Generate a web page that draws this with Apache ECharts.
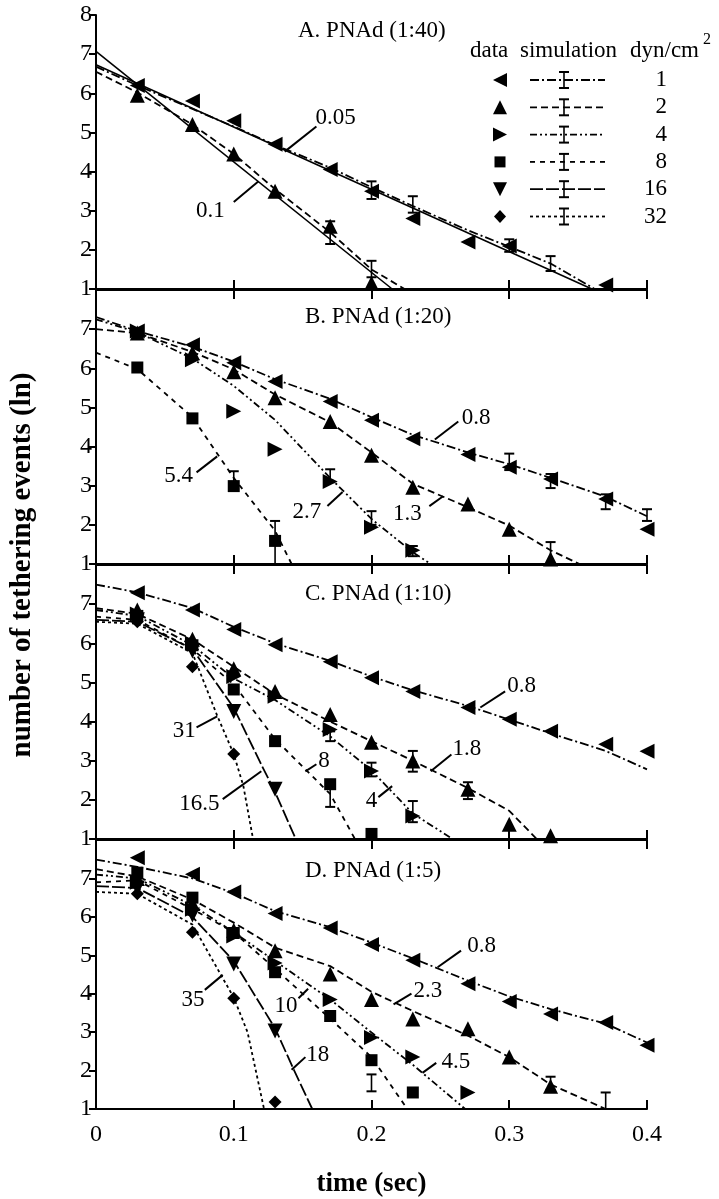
<!DOCTYPE html>
<html><head><meta charset="utf-8">
<script src="https://cdn.jsdelivr.net/npm/echarts@6/dist/echarts.min.js"></script>
<style>html,body{margin:0;padding:0;background:#fff}#c{width:719px;height:1199px}</style>
</head><body><div id="c"></div>
<script>
// ---------- text ----------
const panelTitles = ['A. PNAd (1:40)', 'B. PNAd (1:20)', 'C. PNAd (1:10)', 'D. PNAd (1:5)'];
const xAxisName = 'time (sec)';
const yAxisName = 'number of tethering events (ln)';
const legendHeader = ['data', 'simulation', 'dyn/cm'];
const legendValues = ['1', '2', '4', '8', '16', '32'];
const legendKinds = ['left', 'up', 'right', 'square', 'down', 'diamond'];
const xMin = 0, xMax = 0.4, xStep = 0.1;
const yMin = 1, yMax = 8, yStep = 1;

// ---------- Panel A ----------
const a_pts_left = [[0.03,6.2],[0.07,5.8],[0.1,5.3],[0.13,4.7],[0.17,4.05],[0.2,3.5],[0.23,2.8],[0.27,2.2],[0.3,2.1],[0.37,1.1]];
const a_pts_up = [[0.03,5.95],[0.07,5.2],[0.1,4.45],[0.13,3.5],[0.17,2.6],[0.2,1.15]];
const a_sim_left = [[0,6.68],[0.03,6.2],[0.07,5.6],[0.1,5.15],[0.13,4.68],[0.17,4.1],[0.2,3.6],[0.23,3.12],[0.27,2.5],[0.3,2.08],[0.33,1.65],[0.362,1]];
const a_sim_up = [[0,6.55],[0.03,6.02],[0.07,5.2],[0.1,4.45],[0.13,3.55],[0.17,2.45],[0.2,1.5],[0.224,1]];
const a_fit_left = [[0,6.73],[0.36,1]];
const a_fit_up = [[0,7.07],[0.215,1]];
const a_err = [[0.17,2.15,2.73],[0.2,1.3,1.72],[0.2,3.3,3.75],[0.23,2.95,3.37],[0.3,1.95,2.27],[0.33,1.46,1.84]];
const a_notes = [['0.05',0.137,4.51,0.160,5.15,0.174,5.38],['0.1',0.118,3.75,0.100,3.22,0.083,2.99]];

// ---------- Panel B ----------
const b_pts_left = [[0.03,6.95],[0.07,6.6],[0.1,6.14],[0.13,5.66],[0.17,5.15],[0.2,4.67],[0.23,4.2],[0.27,3.8],[0.3,3.47],[0.33,3.17],[0.37,2.66],[0.4,1.89]];
const b_pts_up = [[0.03,6.9],[0.07,6.4],[0.1,5.91],[0.13,5.25],[0.17,4.64],[0.2,3.78],[0.23,2.96],[0.27,2.53],[0.3,1.89],[0.33,1.13]];
const b_pts_right = [[0.03,6.95],[0.07,6.22],[0.1,4.9],[0.13,3.93],[0.17,3.11],[0.2,1.94],[0.23,1.35]];
const b_pts_square = [[0.03,6.02],[0.07,4.72],[0.1,2.99],[0.13,1.59]];
const b_sim_left = [[0,7.31],[0.03,6.95],[0.07,6.55],[0.1,6.17],[0.13,5.72],[0.17,5.22],[0.2,4.75],[0.23,4.3],[0.27,3.85],[0.3,3.55],[0.33,3.2],[0.37,2.72],[0.4,2.22]];
const b_sim_up = [[0,7.0],[0.03,6.9],[0.07,6.42],[0.1,5.97],[0.13,5.33],[0.17,4.62],[0.2,3.85],[0.23,3.05],[0.27,2.45],[0.3,1.98],[0.33,1.35],[0.351,1]];
const b_sim_right = [[0,7.25],[0.03,6.92],[0.07,6.25],[0.1,5.55],[0.13,4.68],[0.17,3.2],[0.2,2.15],[0.23,1.3],[0.243,1]];
const b_sim_square = [[0,6.4],[0.03,5.98],[0.07,4.75],[0.1,3.2],[0.13,1.85],[0.142,1]];
const b_err = [[0.3,3.4,3.82],[0.33,2.94,3.3],[0.37,2.4,2.78],[0.4,2.1,2.4],[0.33,1.0,1.56],[0.17,3.09,3.42],[0.2,2.0,2.35],[0.23,1.2,1.46],[0.1,3.0,3.37],[0.13,1.0,2.1]];
const b_notes = [['5.4',0.088,3.75,0.073,3.34,0.060,3.24],['2.7',0.179,2.84,0.168,2.48,0.153,2.33],['1.3',0.252,2.73,0.242,2.48,0.226,2.27],['0.8',0.246,4.18,0.263,4.64,0.276,4.74]];

// ---------- Panel C ----------
const c_pts_left = [[0.03,7.29],[0.07,6.85],[0.1,6.35],[0.13,5.96],[0.17,5.53],[0.2,5.12],[0.23,4.77],[0.27,4.36],[0.3,4.06],[0.33,3.75],[0.37,3.42],[0.4,3.24]];
const c_pts_up = [[0.03,6.85],[0.07,6.1],[0.1,5.35],[0.13,4.77],[0.17,4.18],[0.2,3.47],[0.23,2.99],[0.27,2.27],[0.3,1.38],[0.33,1.08]];
const c_pts_right = [[0.03,6.75],[0.07,6.0],[0.1,5.15],[0.13,4.65],[0.17,3.8],[0.2,2.74],[0.23,1.59]];
const c_pts_square = [[0.03,6.7],[0.07,5.95],[0.1,4.82],[0.13,3.5],[0.17,2.4],[0.2,1.13]];
const c_pts_down = [[0.03,6.6],[0.07,5.8],[0.1,4.26],[0.13,2.27]];
const c_pts_diamond = [[0.03,6.55],[0.07,5.4],[0.1,3.17]];
const c_sim_left = [[0,7.5],[0.03,7.3],[0.07,6.9],[0.1,6.42],[0.13,6.0],[0.17,5.55],[0.2,5.15],[0.23,4.8],[0.27,4.4],[0.3,4.05],[0.33,3.7],[0.37,3.25],[0.4,2.78]];
const c_sim_up = [[0,6.9],[0.03,6.75],[0.07,6.1],[0.1,5.4],[0.13,4.7],[0.17,4.0],[0.2,3.5],[0.23,3.0],[0.27,2.3],[0.3,1.72],[0.32,1.0]];
const c_sim_right = [[0,6.85],[0.03,6.7],[0.07,5.95],[0.1,5.1],[0.13,4.55],[0.17,3.62],[0.2,2.75],[0.23,1.65],[0.259,1.0]];
const c_sim_square = [[0,6.68],[0.03,6.6],[0.07,5.85],[0.1,4.95],[0.13,3.55],[0.17,2.15],[0.188,1.0]];
const c_sim_down = [[0,6.6],[0.03,6.55],[0.07,5.85],[0.1,4.35],[0.12,2.9],[0.13,2.2],[0.145,1.0]];
const c_sim_diamond = [[0,6.55],[0.03,6.5],[0.07,5.75],[0.088,4.15],[0.1,3.17],[0.107,2.35],[0.114,1.0]];
const c_err = [[0.23,2.72,3.25],[0.27,2.02,2.45],[0.17,3.5,3.75],[0.2,2.6,2.95],[0.23,1.43,1.97],[0.17,1.82,2.45]];
const c_notes = [['31',0.088,4.13,0.073,3.85,0.064,3.75],['16.5',0.120,2.73,0.092,2.02,0.075,1.89],['8',0.152,2.73,0.160,2.91,0.1655,2.99],['4',0.215,2.35,0.205,2.07,0.200,1.97],['1.8',0.243,2.73,0.258,3.16,0.2693,3.29],['0.8',0.279,4.36,0.297,4.77,0.309,4.9]];

// ---------- Panel D ----------
const d_pts_left = [[0.03,7.54],[0.07,7.11],[0.1,6.65],[0.13,6.09],[0.17,5.71],[0.2,5.28],[0.23,4.87],[0.27,4.26],[0.3,3.8],[0.33,3.47],[0.37,3.25],[0.4,2.66]];
const d_pts_up = [[0.03,7.0],[0.07,6.35],[0.1,5.65],[0.13,5.12],[0.17,4.51],[0.2,3.85],[0.23,3.34],[0.27,3.09],[0.3,2.35],[0.33,1.59]];
const d_pts_right = [[0.03,6.9],[0.07,6.2],[0.1,5.5],[0.13,4.8],[0.17,3.85],[0.2,2.86],[0.23,2.35],[0.27,1.43]];
const d_pts_square = [[0.03,7.15],[0.07,6.5],[0.1,5.58],[0.13,4.56],[0.17,3.42],[0.2,2.27],[0.23,1.43]];
const d_pts_down = [[0.03,6.75],[0.07,6.05],[0.1,4.77],[0.13,3.03]];
const d_pts_diamond = [[0.03,6.6],[0.07,5.6],[0.1,3.88],[0.13,1.18]];
const d_sim_left = [[0,7.49],[0.03,7.3],[0.07,7.0],[0.1,6.62],[0.13,6.15],[0.17,5.73],[0.2,5.33],[0.23,4.92],[0.27,4.34],[0.3,3.93],[0.33,3.6],[0.37,3.22],[0.4,2.73]];
const d_sim_up = [[0,7.24],[0.03,7.05],[0.07,6.45],[0.1,5.85],[0.13,5.2],[0.17,4.72],[0.2,4.05],[0.23,3.55],[0.27,2.91],[0.3,2.35],[0.33,1.64],[0.37,1.0]];
const d_sim_right = [[0,7.1],[0.03,7.0],[0.07,6.3],[0.1,5.6],[0.13,4.85],[0.17,3.85],[0.2,2.99],[0.23,2.15],[0.268,1.0]];
const d_sim_square = [[0,6.9],[0.03,6.95],[0.07,6.2],[0.1,5.6],[0.13,4.65],[0.17,3.35],[0.2,2.35],[0.226,1.0]];
const d_sim_down = [[0,6.8],[0.03,6.75],[0.07,6.0],[0.1,4.85],[0.13,3.1],[0.143,2.07],[0.157,1.0]];
const d_sim_diamond = [[0,6.65],[0.03,6.6],[0.07,5.8],[0.1,3.9],[0.11,3.0],[0.122,1.0]];
const d_err = [[0.33,1.5,1.84],[0.37,1.0,1.43],[0.2,1.46,1.9]];
const d_notes = [['35',0.092,4.49,0.079,4.1,0.0704,3.85],['10',0.154,4.13,0.147,3.88,0.138,3.67],['18',0.142,2.02,0.152,2.35,0.161,2.4],['2.3',0.216,3.72,0.229,4.0,0.241,4.06],['4.5',0.237,1.94,0.247,2.2,0.2613,2.22],['0.8',0.248,4.69,0.265,5.12,0.28,5.25]];

// ---------- styles ----------
const SERIF = '"Liberation Serif","Times New Roman",serif';
const FS = 23;
const TICK_FS = 24;
const GRID_TOPS = [15, 290, 565, 840];
const GRID_H = 274, GRID_L = 96, GRID_W = 551;
const kindSymbol = {left:['triangle',90,15], up:['triangle',0,15], right:['triangle',-90,15], square:['rect',0,12], down:['triangle',180,15], diamond:['diamond',0,13]};
const kindDash = {left:[9,3,2,3], up:[7,4], right:[7,3,2,3,2,3], square:[5,5], down:[13,3], diamond:[3,3]};

const panels = [
  {pts:{left:a_pts_left, up:a_pts_up}, sim:{left:a_sim_left, up:a_sim_up}, fits:[a_fit_left, a_fit_up], err:a_err, notes:a_notes},
  {pts:{left:b_pts_left, up:b_pts_up, right:b_pts_right, square:b_pts_square}, sim:{left:b_sim_left, up:b_sim_up, right:b_sim_right, square:b_sim_square}, fits:[], err:b_err, notes:b_notes},
  {pts:{left:c_pts_left, up:c_pts_up, right:c_pts_right, square:c_pts_square, down:c_pts_down, diamond:c_pts_diamond}, sim:{left:c_sim_left, up:c_sim_up, right:c_sim_right, square:c_sim_square, down:c_sim_down, diamond:c_sim_diamond}, fits:[], err:c_err, notes:c_notes},
  {pts:{left:d_pts_left, up:d_pts_up, right:d_pts_right, square:d_pts_square, down:d_pts_down, diamond:d_pts_diamond}, sim:{left:d_sim_left, up:d_sim_up, right:d_sim_right, square:d_sim_square, down:d_sim_down, diamond:d_sim_diamond}, fits:[], err:d_err, notes:d_notes}
];

const grid = GRID_TOPS.map(t => ({left:GRID_L, top:t, width:GRID_W, height:GRID_H, containLabel:false}));
const axisLineStyle = {color:'#000', width:2};
const xAxis = [];
const yAxis = [];
GRID_TOPS.forEach((t, p) => {
  xAxis.push({gridIndex:p, type:'value', min:xMin, max:xMax, interval:xStep, position:'bottom',
    axisLine:{show:true, onZero:false, lineStyle:axisLineStyle},
    axisTick:{show:true, inside:true, length:9, lineStyle:{color:'#000', width:2}},
    axisLabel:{show:p===3, color:'#000', fontFamily:SERIF, fontSize:TICK_FS, margin:14},
    splitLine:{show:false},
    name: p===3 ? xAxisName : '', nameLocation:'middle', nameGap:62,
    nameTextStyle:{color:'#000', fontFamily:SERIF, fontSize:27, fontWeight:'bold'}});
  yAxis.push({gridIndex:p, type:'value', min:yMin, max:yMax, interval:yStep,
    axisLine:{show:true, onZero:false, lineStyle:axisLineStyle},
    axisTick:{show:true, inside:false, length:7, lineStyle:{color:'#000', width:2}},
    axisLabel:{color:'#000', fontFamily:SERIF, fontSize:TICK_FS, margin:4, showMaxLabel:p===0, showMinLabel:true},
    splitLine:{show:false}});
});
[1,2,3].forEach(p => {
  xAxis.push({gridIndex:p, type:'value', min:xMin, max:xMax, interval:xStep, position:'top',
    axisLine:{show:true, onZero:false, lineStyle:axisLineStyle},
    axisTick:{show:true, inside:true, length:9, lineStyle:{color:'#000', width:2}},
    axisLabel:{show:false}, splitLine:{show:false}});
});

function errRender(params, api) {
  const x = api.value(0), lo = api.value(1), hi = api.value(2);
  const a = api.coord([x, lo]), b = api.coord([x, hi]);
  const w = 5;
  return {type:'group', children:[
    {type:'line', shape:{x1:a[0], y1:a[1], x2:b[0], y2:b[1]}, style:{stroke:'#000', lineWidth:1.6}},
    {type:'line', shape:{x1:a[0]-w, y1:a[1], x2:a[0]+w, y2:a[1]}, style:{stroke:'#000', lineWidth:2}},
    {type:'line', shape:{x1:b[0]-w, y1:b[1], x2:b[0]+w, y2:b[1]}, style:{stroke:'#000', lineWidth:2}}
  ]};
}

const series = [];
panels.forEach((pn, p) => {
  pn.fits.forEach(f => series.push({type:'line', xAxisIndex:p, yAxisIndex:p, data:f, symbol:'none', silent:true, animation:false, z:2,
    lineStyle:{color:'#000', width:1.6, type:'solid'}}));
  Object.keys(pn.sim).forEach(k => series.push({type:'line', xAxisIndex:p, yAxisIndex:p, data:pn.sim[k], symbol:'none', silent:true, animation:false, z:2,
    lineStyle:{color:'#000', width:1.8, type:kindDash[k], cap:'butt'}}));
  series.push({type:'custom', xAxisIndex:p, yAxisIndex:p, data:pn.err, renderItem:errRender, encode:{x:0, y:[1,2]}, silent:true, animation:false, z:3});
  Object.keys(pn.pts).forEach(k => {
    const s = kindSymbol[k];
    series.push({type:'scatter', xAxisIndex:p, yAxisIndex:p, data:pn.pts[k], symbol:s[0], symbolRotate:s[1], symbolSize:s[2],
      itemStyle:{color:'#000', opacity:1}, silent:true, animation:false, z:4});
  });
  const notes = pn.notes;
  series.push({type:'custom', xAxisIndex:p, yAxisIndex:p, data:notes.map(n => [n[1], n[2], n[3], n[4], n[5], n[6]]),
    encode:{x:[0,2,4], y:[1,3,5]}, silent:true, animation:false, z:5,
    renderItem:function(params, api){
      const a = api.coord([api.value(0), api.value(1)]);
      const b = api.coord([api.value(2), api.value(3)]);
      const c = api.coord([api.value(4), api.value(5)]);
      return {type:'group', children:[
        {type:'line', shape:{x1:a[0], y1:a[1], x2:b[0], y2:b[1]}, style:{stroke:'#000', lineWidth:2}},
        {type:'text', x:c[0], y:c[1], style:{text:notes[params.dataIndex][0], align:'center', verticalAlign:'middle', textAlign:'center', textVerticalAlign:'middle', font:FS + 'px ' + SERIF, fill:'#000'}}
      ]};
    }});
});

// ---------- graphic: titles, y name, legend ----------
const graphic = [];
const titlePos = [[298,32],[305,318],[305,595],[305,872]];
panelTitles.forEach((t, i) => graphic.push({type:'text', left:titlePos[i][0], top:titlePos[i][1]-13,
  style:{text:t, font:FS + 'px ' + SERIF, fill:'#000'}}));
graphic.push({type:'text', x:23, y:565, rotation:Math.PI/2,
  style:{text:yAxisName, font:'bold 29px ' + SERIF, fill:'#000', align:'center', verticalAlign:'middle', textAlign:'center', textVerticalAlign:'middle'}});

const LG = {hy:52, dataX:470, simX:520, dynX:630, rowY0:80, rowDy:27.3, mX:500, l1:530, l2:605, ebX:564, valR:667};
graphic.push({type:'text', left:LG.dataX, top:LG.hy-13, style:{text:legendHeader[0], font:FS+'px '+SERIF, fill:'#000'}});
graphic.push({type:'text', left:LG.simX, top:LG.hy-13, style:{text:legendHeader[1], font:FS+'px '+SERIF, fill:'#000'}});
graphic.push({type:'text', left:LG.dynX, top:LG.hy-13, style:{text:legendHeader[2], font:FS+'px '+SERIF, fill:'#000'}});
graphic.push({type:'text', left:LG.dynX+73, top:LG.hy-20, style:{text:'2', font:'16px '+SERIF, fill:'#000'}});
function markerShape(kind, cx, cy) {
  const h = 7;
  let pts;
  if (kind === 'left') pts = [[cx-h,cy],[cx+h,cy-h],[cx+h,cy+h]];
  else if (kind === 'up') pts = [[cx,cy-h],[cx+h,cy+h],[cx-h,cy+h]];
  else if (kind === 'right') pts = [[cx+h,cy],[cx-h,cy-h],[cx-h,cy+h]];
  else if (kind === 'down') pts = [[cx,cy+h],[cx+h,cy-h],[cx-h,cy-h]];
  else if (kind === 'square') pts = [[cx-5.5,cy-5.5],[cx+5.5,cy-5.5],[cx+5.5,cy+5.5],[cx-5.5,cy+5.5]];
  else pts = [[cx,cy-6.5],[cx+6,cy],[cx,cy+6.5],[cx-6,cy]];
  return {type:'polygon', shape:{points:pts}, style:{fill:'#000'}};
}
legendKinds.forEach((k, i) => {
  const y = LG.rowY0 + i*LG.rowDy;
  graphic.push(markerShape(k, LG.mX, y));
  graphic.push({type:'line', shape:{x1:LG.l1, y1:y, x2:LG.l2, y2:y}, style:{stroke:'#000', lineWidth:1.8, lineDash:kindDash[k]}});
  graphic.push({type:'line', shape:{x1:LG.ebX, y1:y-8, x2:LG.ebX, y2:y+8}, style:{stroke:'#000', lineWidth:1.6}});
  graphic.push({type:'line', shape:{x1:LG.ebX-5, y1:y-8, x2:LG.ebX+5, y2:y-8}, style:{stroke:'#000', lineWidth:2}});
  graphic.push({type:'line', shape:{x1:LG.ebX-5, y1:y+8, x2:LG.ebX+5, y2:y+8}, style:{stroke:'#000', lineWidth:2}});
  graphic.push({type:'text', x:LG.valR, y:y, style:{text:legendValues[i], font:FS+'px '+SERIF, fill:'#000', align:'right', verticalAlign:'middle', textAlign:'right', textVerticalAlign:'middle'}});
});

const chart = echarts.init(document.getElementById('c'), null, {renderer:'canvas'});
chart.setOption({animation:false, backgroundColor:'#fff', grid, xAxis, yAxis, series, graphic});
</script></body></html>
